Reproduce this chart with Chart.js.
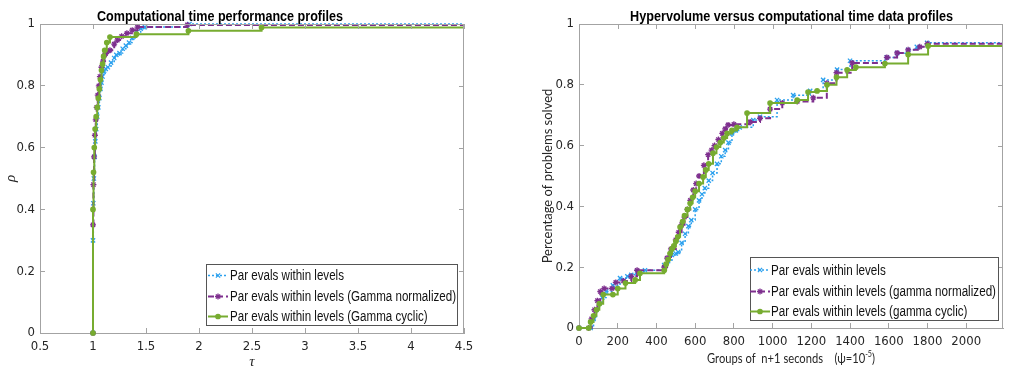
<!DOCTYPE html>
<html>
<head>
<meta charset="utf-8">
<script src="https://cdn.jsdelivr.net/npm/chart.js@4.4.0/dist/chart.umd.min.js"></script>
<style>
  body { margin: 0; background: #fff; width: 1011px; height: 376px; overflow: hidden; position: relative; }
  .panel { position: absolute; top: 0; height: 376px; }
  #p1 { left: 0; width: 505px; }
  #p2 { left: 505px; width: 506px; }
</style>
</head>
<body>
<div class="panel" id="p1"><canvas id="c1" width="505" height="376"></canvas></div>
<div class="panel" id="p2"><canvas id="c2" width="506" height="376"></canvas></div>
<script>
// ---- left panel: performance profiles (tau -> rho) ----
var tauBlue = [1, 1, 1.003, 1.008, 1.015, 1.022, 1.03, 1.04, 1.05, 1.06, 1.07, 1.08, 1.09, 1.1, 1.12, 1.14, 1.17, 1.2, 1.22, 1.25, 1.28, 1.31, 1.34, 1.37, 1.41, 1.45, 1.49, 1.91, 4.5];
var rhoBlue = [0, 0.3, 0.42, 0.5, 0.57, 0.62, 0.66, 0.7, 0.73, 0.76, 0.79, 0.81, 0.83, 0.845, 0.855, 0.86, 0.875, 0.89, 0.9, 0.906, 0.92, 0.93, 0.94, 0.955, 0.974, 0.985, 0.99, 1.0, 1.0];

var tauPurple = [1, 1, 1.004, 1.01, 1.018, 1.026, 1.035, 1.045, 1.055, 1.065, 1.08, 1.095, 1.11, 1.13, 1.16, 1.2, 1.23, 1.27, 1.32, 1.37, 1.42, 1.89, 4.5];
var rhoPurple = [0, 0.35, 0.48, 0.57, 0.64, 0.69, 0.73, 0.77, 0.8, 0.83, 0.86, 0.88, 0.9, 0.91, 0.915, 0.935, 0.948, 0.96, 0.97, 0.98, 0.99, 0.997, 0.997];

var tauGreen = [1, 1, 1.005, 1.012, 1.02, 1.03, 1.04, 1.05, 1.06, 1.07, 1.08, 1.09, 1.1, 1.11, 1.13, 1.16, 1.41, 1.9, 2.59, 4.5];
var rhoGreen = [0, 0.4, 0.52, 0.6, 0.66, 0.7, 0.73, 0.76, 0.79, 0.82, 0.85, 0.87, 0.895, 0.915, 0.94, 0.958, 0.967, 0.978, 0.989, 0.989];

// ---- right panel: data profiles (groups of n+1 seconds -> share solved) ----
var grpBlue = [0, 60, 75, 90, 105, 120, 140, 175, 212, 250, 270, 300, 341, 440, 460, 480, 500, 512, 530, 548, 565, 580, 600, 620, 635, 650, 670, 690, 713, 735, 755, 772, 790, 810, 830, 900, 935, 1023, 1106, 1194, 1261, 1333, 1400, 1590, 1643, 1700, 1745, 1798, 2190];
var solBlue = [0, 0, 0.03, 0.06, 0.08, 0.1, 0.12, 0.14, 0.164, 0.17, 0.175, 0.185, 0.19, 0.207, 0.22, 0.24, 0.245, 0.25, 0.28, 0.31, 0.335, 0.355, 0.39, 0.42, 0.44, 0.46, 0.485, 0.51, 0.54, 0.565, 0.585, 0.61, 0.64, 0.65, 0.66, 0.684, 0.695, 0.75, 0.766, 0.78, 0.816, 0.85, 0.879, 0.89, 0.904, 0.915, 0.925, 0.938, 0.938];

var grpPurple = [0, 50, 65, 80, 95, 110, 130, 170, 190, 230, 270, 300, 440, 455, 475, 500, 515, 530, 545, 560, 575, 590, 605, 620, 645, 667, 685, 700, 720, 740, 755, 770, 800, 884, 935, 987, 1050, 1127, 1210, 1280, 1330, 1411, 1590, 1643, 1700, 1760, 1800, 2190];
var solPurple = [0, 0, 0.03, 0.06, 0.09, 0.12, 0.13, 0.13, 0.15, 0.155, 0.17, 0.19, 0.2, 0.23, 0.26, 0.29, 0.315, 0.34, 0.365, 0.39, 0.42, 0.454, 0.475, 0.5, 0.535, 0.57, 0.585, 0.6, 0.62, 0.64, 0.655, 0.668, 0.67, 0.678, 0.69, 0.72, 0.74, 0.745, 0.757, 0.805, 0.84, 0.872, 0.89, 0.905, 0.915, 0.925, 0.935, 0.935];

var grpGreen = [0, 50, 60, 75, 90, 105, 125, 175, 200, 240, 290, 315, 440, 450, 460, 470, 480, 490, 500, 510, 522, 535, 545, 560, 574, 587, 600, 620, 641, 655, 670, 692, 710, 730, 748, 765, 790, 816, 868, 987, 1127, 1183, 1230, 1281, 1330, 1385, 1430, 1580, 1700, 1803, 2190];
var solGreen = [0, 0, 0.02, 0.04, 0.06, 0.08, 0.11, 0.11, 0.13, 0.148, 0.158, 0.18, 0.19, 0.21, 0.225, 0.245, 0.26, 0.27, 0.285, 0.3, 0.332, 0.35, 0.37, 0.39, 0.41, 0.43, 0.45, 0.475, 0.497, 0.52, 0.54, 0.575, 0.595, 0.61, 0.625, 0.64, 0.65, 0.66, 0.707, 0.74, 0.75, 0.776, 0.78, 0.8, 0.825, 0.849, 0.858, 0.87, 0.9, 0.928, 0.928];

// ---- labels and ticks ----
var leftNames = ['Par evals within levels', 'Par evals within levels (Gamma normalized)', 'Par evals within levels (Gamma cyclic)'];
var rightNames = ['Par evals within levels', 'Par evals within levels (gamma normalized)', 'Par evals within levels (gamma cyclic)'];
var tauTicks = [0.5, 1, 1.5, 2, 2.5, 3, 3.5, 4, 4.5];
var grpTicks = [0, 200, 400, 600, 800, 1000, 1200, 1400, 1600, 1800, 2000];
var yTicks = [0, 0.2, 0.4, 0.6, 0.8, 1];

var axisColor = '#a3a3a3';
var textColor = '#262626';
var narrow = '"Liberation Sans Narrow", "Arial Narrow", "DejaVu Sans Condensed", "Liberation Sans", sans-serif';
var tickFont = { family: narrow, size: 13 };

var styles = [
  { borderColor: '#2aa0ee', borderWidth: 1.5, borderDash: [2, 2], pointStyle: 'crossRot', r: 3, order: 2 },
  { borderColor: '#7e2f8e', borderWidth: 2, borderDash: [6, 3], pointStyle: 'star', r: 3, order: 1 },
  { borderColor: '#77ac30', borderWidth: 2, borderDash: [], pointStyle: 'circle', r: 2.2, order: 0 }
];

function series(xs, ys, name, st) {
  var last = xs.length - 1;
  return {
    label: name,
    data: xs.map(function (x, i) { return { x: x, y: ys[i] }; }),
    stepped: true,
    fill: false,
    clip: 6,
    order: st.order,
    borderColor: st.borderColor,
    borderWidth: st.borderWidth,
    borderDash: st.borderDash,
    pointStyle: st.pointStyle,
    pointRadius: function (c) { return c.dataIndex === last ? 0 : st.r; },
    pointBorderColor: st.borderColor,
    pointBackgroundColor: st.borderColor,
    pointBorderWidth: 1.3
  };
}

function xAxis(min, max, ticks, title, font, h, pad) {
  return {
    type: 'linear', min: min, max: max,
    afterBuildTicks: function (s) { s.ticks = ticks.map(function (v) { return { value: v }; }); },
    afterFit: function (s) { s.height = h; },
    grid: { drawOnChartArea: false, drawTicks: true, tickLength: -5, color: axisColor },
    border: { color: axisColor },
    ticks: { color: textColor, font: tickFont, padding: 11, maxRotation: 0, autoSkip: false,
      callback: function (v) { return String(v); } },
    title: { display: !!title, text: title, color: textColor, font: font, padding: { top: 0, bottom: pad } }
  };
}

function yAxis(title, font, w, pad) {
  return {
    type: 'linear', min: 0, max: 1,
    afterBuildTicks: function (s) { s.ticks = yTicks.map(function (v) { return { value: v }; }); },
    afterFit: function (s) { s.width = w; },
    grid: { drawOnChartArea: false, drawTicks: true, tickLength: -5, color: axisColor },
    border: { color: axisColor },
    ticks: { color: textColor, font: tickFont, padding: 10, callback: function (v) { return String(v); } },
    title: { display: true, text: title, color: textColor, font: font, padding: { top: pad, bottom: 0 } }
  };
}

// text squeezed horizontally to a given width (the reference figure is narrowed)
function squeezed(ctx, parts, x, y, width) {
  var total = 0;
  parts.forEach(function (p) { ctx.font = p.font; total += ctx.measureText(p.text).width; });
  ctx.save();
  ctx.translate(x, y);
  ctx.scale(width / total, 1);
  var cx = 0;
  parts.forEach(function (p) {
    ctx.font = p.font;
    ctx.fillText(p.text, cx, p.dy || 0);
    cx += ctx.measureText(p.text).width;
  });
  ctx.restore();
}

// box, mirrored ticks, title, legend
var frame = {
  id: 'frame',
  afterDraw: function (chart, args, o) {
    var ctx = chart.ctx, a = chart.chartArea, sx = chart.scales.x, sy = chart.scales.y;
    ctx.save();
    ctx.strokeStyle = axisColor;
    ctx.lineWidth = 1;
    ctx.setLineDash([]);
    ctx.beginPath();
    ctx.moveTo(a.left, a.top + 0.5); ctx.lineTo(a.right, a.top + 0.5);
    ctx.moveTo(a.right - 0.5, a.top); ctx.lineTo(a.right - 0.5, a.bottom);
    sx.ticks.forEach(function (t) {
      var px = Math.round(sx.getPixelForValue(t.value)) + 0.5;
      ctx.moveTo(px, a.top); ctx.lineTo(px, a.top + 5);
    });
    sy.ticks.forEach(function (t) {
      var py = Math.round(sy.getPixelForValue(t.value)) + 0.5;
      ctx.moveTo(a.right, py); ctx.lineTo(a.right - 5, py);
    });
    ctx.stroke();

    ctx.textAlign = 'left';
    ctx.textBaseline = 'alphabetic';
    ctx.fillStyle = '#000';
    squeezed(ctx, [{ text: o.title, font: 'bold 14px "Liberation Sans", Arial, sans-serif' }], o.titleX, o.titleY, o.titleW);

    if (o.xTitle) {
      ctx.fillStyle = textColor;
      var f = '14px Lato, "Open Sans", sans-serif', fs = '9px Lato, "Open Sans", sans-serif';
      squeezed(ctx, [
        { text: o.xTitle[0], font: f },
        { text: o.xTitle[1], font: fs, dy: -6 },
        { text: o.xTitle[2], font: f }
      ], o.xTitleX, o.xTitleY, o.xTitleW);
    }

    // legend
    var L = o.legend;
    ctx.fillStyle = '#fff';
    ctx.fillRect(L.x, L.y, L.w, L.h);
    ctx.strokeStyle = '#555';
    ctx.strokeRect(L.x + 0.5, L.y + 0.5, L.w, L.h);
    ctx.font = '14px "Liberation Sans", Arial, sans-serif';
    ctx.textBaseline = 'middle';
    var longest = 0;
    chart.data.datasets.forEach(function (d) { longest = Math.max(longest, ctx.measureText(d.label).width); });
    var k = L.textW / longest;
    chart.data.datasets.forEach(function (d, i) {
      var y = L.y + L.rows[i];
      ctx.strokeStyle = d.borderColor;
      ctx.lineWidth = d.borderWidth;
      ctx.setLineDash(d.borderDash);
      ctx.beginPath();
      ctx.moveTo(L.x + L.line[0], y); ctx.lineTo(L.x + L.line[1], y);
      ctx.stroke();
      ctx.setLineDash([]);
      ctx.fillStyle = d.borderColor;
      ctx.lineWidth = 1.3;
      Chart.helpers.drawPoint(ctx, { pointStyle: d.pointStyle, rotation: 0, radius: styles[i].r, borderWidth: 1.3 },
        L.x + (L.line[0] + L.line[1]) / 2, y);
      ctx.fillStyle = '#111';
      ctx.save();
      ctx.translate(L.x + L.textX, y + 1);
      ctx.scale(k, 1);
      ctx.fillText(d.label, 0, 0);
      ctx.restore();
    });
    ctx.restore();
  }
};

function makeChart(id, sets, xs, ys, pad, frameOpts) {
  return new Chart(document.getElementById(id), {
    type: 'line',
    data: { datasets: sets },
    options: {
      responsive: false,
      animation: false,
      events: [],
      layout: { padding: pad },
      scales: { x: xs, y: ys },
      plugins: { legend: { display: false }, tooltip: { enabled: false }, frame: frameOpts }
    },
    plugins: [frame]
  });
}

makeChart('c1',
  [series(tauBlue, rhoBlue, leftNames[0], styles[0]),
   series(tauPurple, rhoPurple, leftNames[1], styles[1]),
   series(tauGreen, rhoGreen, leftNames[2], styles[2])],
  xAxis(0.5, 4.5, tauTicks, '\u03c4', { family: '"Liberation Serif", serif', size: 15, style: 'italic' }, 43, 5),
  yAxis('\u03c1', { family: '"Liberation Serif", serif', size: 15, style: 'italic' }, 40, 2),
  { top: 24, left: 0, right: 41, bottom: 0 },
  { title: 'Computational time performance profiles', titleX: 97, titleY: 21, titleW: 246,
    legend: { x: 206, y: 264, w: 251, h: 61, rows: [11.5, 32.5, 52.5], line: [2, 22], textX: 24, textW: 226 } });

makeChart('c2',
  [series(grpBlue, solBlue, rightNames[0], styles[0]),
   series(grpPurple, solPurple, rightNames[1], styles[1]),
   series(grpGreen, solGreen, rightNames[2], styles[2])],
  xAxis(0, 2190, grpTicks, '', null, 48, 0),
  yAxis('Percentage of problems solved', { family: 'Lato, "Open Sans", sans-serif', size: 13 }, 74, 35),
  { top: 24, left: 0, right: 8, bottom: 0 },
  { title: 'Hypervolume versus computational time data profiles', titleX: 125, titleY: 21, titleW: 323,
    xTitle: ['Groups of  n+1 seconds    (\u03c8=10', '-5', ')'], xTitleX: 202, xTitleY: 363, xTitleW: 168,
    legend: { x: 245, y: 257, w: 248, h: 63, rows: [13, 34.5, 54.5], line: [0, 20], textX: 21, textW: 225 } });
</script>
</body>
</html>
